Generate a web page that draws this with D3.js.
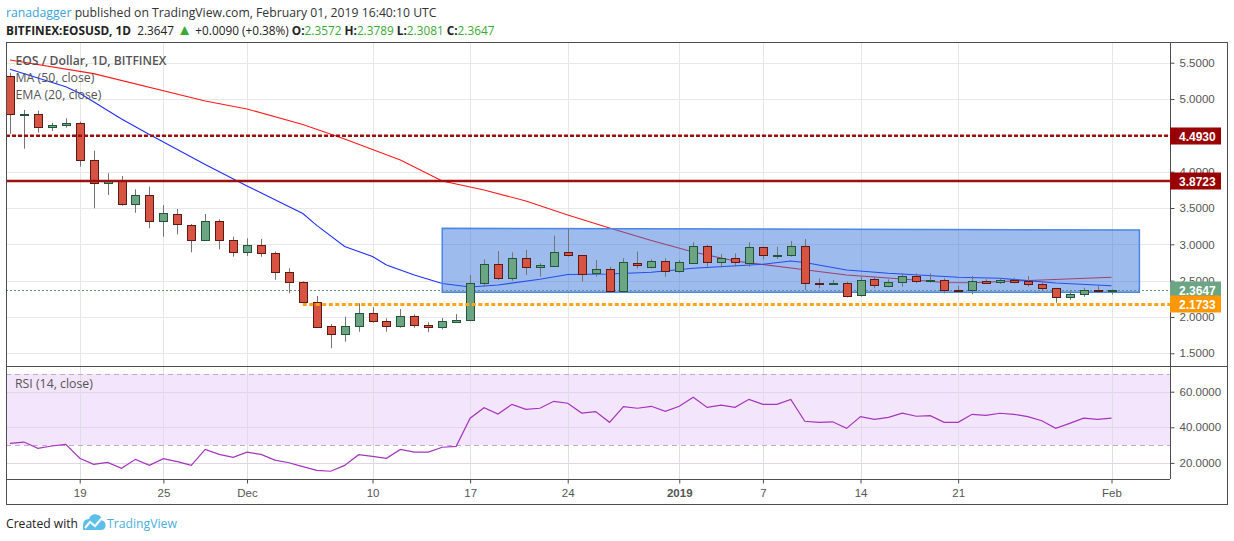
<!DOCTYPE html>
<html>
<head>
<meta charset="utf-8">
<script src="https://cdn.jsdelivr.net/npm/d3@7"></script>
<style>
  body { margin: 0; background: #fff; }
  svg { display: block; }
  text { white-space: pre; }
</style>
</head>
<body>
<svg id="chart" width="1234" height="541"></svg>
<script>
// ---- data ----
const firstDay = "2018-11-14";

const opens  = [5.317,4.78,4.79,4.619,4.647,4.666,4.161,3.84,3.872,3.551,3.679,3.317,3.417,3.266,3.055,3.317,3.055,2.898,2.991,2.885,
                2.615,2.477,2.202,1.872,1.762,1.872,2.051,1.949,1.872,2.009,1.886,1.858,1.928,1.955,2.464,2.725,2.532,2.808,2.684,2.706,
                2.89,2.849,2.601,2.656,2.362,2.743,2.692,2.77,2.637,2.747,2.977,2.761,2.808,2.747,2.959,2.85,2.849,2.977,2.464,2.45,
                2.464,2.298,2.518,2.422,2.477,2.56,2.491,2.513,2.371,2.367,2.495,2.481,2.504,2.495,2.45,2.395,2.271,2.312,2.376,2.3572];
const highs  = [5.36,4.85,4.84,4.674,4.735,4.688,4.289,3.978,3.94,3.757,3.793,3.541,3.486,3.28,3.417,3.345,3.105,3.083,3.074,2.90,
                2.67,2.49,2.289,1.903,2.004,2.188,2.133,1.982,2.109,2.037,1.927,1.986,2.04,2.578,2.794,2.908,2.89,2.922,2.739,3.119,
                3.221,2.85,2.784,2.692,2.808,2.9,2.794,2.808,2.784,3.028,2.99,2.867,2.876,3.028,2.97,2.967,3.046,3.074,2.532,2.51,
                2.486,2.555,2.555,2.518,2.601,2.601,2.601,2.532,2.43,2.564,2.518,2.532,2.54,2.564,2.486,2.40,2.358,2.403,2.426,2.3789];
const lows   = [4.52,4.316,4.536,4.56,4.605,4.069,3.496,3.679,3.532,3.435,3.221,3.105,3.138,2.89,3.05,2.932,2.83,2.84,2.83,2.51,
                2.326,2.19,1.85,1.569,1.66,1.797,1.921,1.797,1.852,1.852,1.79,1.83,1.92,1.95,2.417,2.509,2.5,2.578,2.555,2.692,
                2.83,2.486,2.555,2.35,2.348,2.67,2.67,2.555,2.61,2.74,2.692,2.68,2.692,2.692,2.794,2.80,2.83,2.371,2.395,2.44,
                2.27,2.28,2.395,2.41,2.417,2.464,2.472,2.326,2.35,2.312,2.454,2.454,2.463,2.417,2.357,2.196,2.234,2.279,2.353,2.3081];
const closes = [4.79,4.80,4.611,4.642,4.674,4.161,3.84,3.872,3.551,3.679,3.317,3.427,3.28,3.055,3.317,3.055,2.898,2.991,2.885,2.619,
                2.477,2.202,1.858,1.762,1.872,2.051,1.949,1.872,2.009,1.886,1.858,1.94,1.955,2.464,2.725,2.532,2.808,2.684,2.711,2.89,
                2.849,2.587,2.656,2.362,2.753,2.711,2.77,2.637,2.757,2.977,2.761,2.808,2.753,2.959,2.849,2.855,2.977,2.464,2.45,2.464,
                2.285,2.513,2.436,2.477,2.56,2.491,2.513,2.367,2.362,2.491,2.472,2.504,2.486,2.45,2.395,2.271,2.312,2.376,2.362,2.3647];

const rsiValues = [31.0,31.7,28.2,29.5,30.4,22.6,19.2,20.3,17.0,22.0,18.6,22.4,20.7,18.6,27.6,24.8,23.1,26.0,24.8,21.6,
                   20.1,17.9,15.8,15.3,18.6,24.6,23.7,22.6,27.6,26.1,26.1,28.8,29.3,45.1,51.0,47.5,52.9,50.1,50.7,54.6,
                   53.5,48.0,48.8,42.8,51.6,50.7,51.8,49.0,51.8,56.9,51.2,52.4,51.2,55.7,52.9,52.9,55.7,43.4,42.8,43.1,
                   39.4,46.0,44.5,45.6,47.9,46.2,46.5,42.8,42.8,47.3,46.7,47.9,47.3,46.0,43.7,39.4,42.2,45.1,44.5,45.1];

const maDates  = ["2018-11-14","2018-11-20","2018-11-28","2018-12-01","2018-12-05","2018-12-08","2018-12-12","2018-12-15",
                  "2018-12-18","2018-12-21","2018-12-24","2018-12-27","2018-12-30","2019-01-02","2019-01-05","2019-01-09",
                  "2019-01-13","2019-01-17","2019-01-20","2019-01-22","2019-01-25","2019-02-01"];
const maValues = [5.537,5.35,4.973,4.863,4.649,4.45,4.161,3.872,3.748,3.596,3.404,3.225,3.053,2.894,2.77,2.674,
                  2.578,2.523,2.474,2.472,2.495,2.546];

const emaDates  = ["2018-11-14","2018-11-18","2018-11-19","2018-11-22","2018-11-24","2018-11-27","2018-11-28","2018-12-01",
                   "2018-12-05","2018-12-06","2018-12-08","2018-12-10","2018-12-11","2018-12-13","2018-12-15","2018-12-17",
                   "2018-12-19","2018-12-22","2018-12-24","2018-12-27","2018-12-30","2019-01-02","2019-01-07","2019-01-09",
                   "2019-01-10","2019-01-13","2019-01-16","2019-01-21","2019-01-24","2019-01-28","2019-02-01"];
const emaValues = [5.409,5.17,5.08,4.725,4.512,4.202,4.10,3.803,3.424,3.26,2.97,2.832,2.715,2.578,2.461,2.413,
                   2.44,2.519,2.585,2.592,2.615,2.67,2.725,2.771,2.75,2.647,2.601,2.546,2.532,2.468,2.43];

const priceTicks = [1.5, 2.0, 2.5, 3.0, 3.5, 4.0, 4.5, 5.0, 5.5];
const rsiTicks = [20, 40, 60];
const rsiBand = [30, 70];
const dateTicks = ["2018-11-19","2018-11-25","2018-12-01","2018-12-10","2018-12-17","2018-12-24",
                   "2019-01-01","2019-01-07","2019-01-14","2019-01-21","2019-02-01"];
const dateTickLabels = ["19","25","Dec","10","17","24","2019","7","14","21","Feb"];

const levelValues = [4.4930, 3.8723, 2.1733];   // resistance dashed, resistance solid, support
const supportFrom = "2018-12-05";
const boxDates = ["2018-12-15", "2019-02-03"];
const boxTops = [3.221, 3.197];
const boxBottom = 2.34;

// ---- layout ----
const L = 6, PR = 1170, OR = 1227, T = 42, MB = 366, RB = 479, OB = 504;
const AX = "Liberation Sans, Arial, sans-serif";
const UI = "Open Sans, Noto Sans, sans-serif";

const parse = d3.utcParse("%Y-%m-%d");
const day0 = parse(firstDay);
const days = closes.map((_, i) => d3.utcDay.offset(day0, i));

const x = d3.scaleUtc().domain([parse("2018-11-14"), parse("2019-02-01")]).range([10, 1111.5]);
const y = d3.scaleLinear().domain([1.5, 5.5]).range([353.3, 62.7]);
const yr = d3.scaleLinear().domain([20, 60]).range([462.9, 391.7]);

const svg = d3.select("#chart");
const defs = svg.append("defs");
defs.append("clipPath").attr("id", "clipMain").append("rect")
  .attr("x", L).attr("y", T).attr("width", PR - L).attr("height", MB - T);
defs.append("clipPath").attr("id", "clipRsi").append("rect")
  .attr("x", L).attr("y", MB).attr("width", PR - L).attr("height", RB - MB);

// grid
const grid = svg.append("g");
grid.selectAll("line.h").data(priceTicks).join("line")
  .attr("x1", L).attr("x2", PR).attr("y1", d => Math.round(y(d)) + 0.5).attr("y2", d => Math.round(y(d)) + 0.5)
  .attr("stroke", "#e8e8e8");
grid.selectAll("line.v").data(dateTicks).join("line")
  .attr("x1", d => Math.round(x(parse(d))) + 0.5).attr("x2", d => Math.round(x(parse(d))) + 0.5)
  .attr("y1", T).attr("y2", RB).attr("stroke", "#e6e6e6");

// ---- main pane ----
const main = svg.append("g").attr("clip-path", "url(#clipMain)");

const line = d3.line().x(d => x(d[0])).y(d => y(d[1]));
main.append("path")
  .attr("d", line(maDates.map((d, i) => [parse(d), maValues[i]])))
  .attr("fill", "none").attr("stroke", "#ff1a1a").attr("stroke-width", 1.1);
main.append("path")
  .attr("d", line(emaDates.map((d, i) => [parse(d), emaValues[i]])))
  .attr("fill", "none").attr("stroke", "#1f2fff").attr("stroke-width", 1.1);

// range box
const bx0 = x(parse(boxDates[0])), bx1 = x(parse(boxDates[1]));
main.append("path")
  .attr("d", `M${bx0},${y(boxTops[0])}L${bx1},${y(boxTops[1])}L${bx1},${y(boxBottom)}L${bx0},${y(boxBottom)}Z`)
  .attr("fill", "#2f6fd8").attr("fill-opacity", 0.47)
  .attr("stroke", "#4a86e8").attr("stroke-width", 1.5);

// last price dotted line
main.append("line")
  .attr("x1", L).attr("x2", PR)
  .attr("y1", Math.round(y(closes[closes.length - 1])) + 0.5).attr("y2", Math.round(y(closes[closes.length - 1])) + 0.5)
  .attr("stroke", "#5f9878").attr("stroke-dasharray", "2 2");

// candles
const candles = main.append("g");
days.forEach((d, i) => {
  const cx = Math.round(x(d));
  const up = closes[i] >= opens[i];
  candles.append("line")
    .attr("x1", cx + 0.5).attr("x2", cx + 0.5)
    .attr("y1", y(highs[i])).attr("y2", y(lows[i]))
    .attr("stroke", "#747474");
  const top = Math.round(y(Math.max(opens[i], closes[i])));
  const bot = Math.round(y(Math.min(opens[i], closes[i])));
  candles.append("rect")
    .attr("x", cx - 3.5).attr("width", 8)
    .attr("y", top + 0.5).attr("height", Math.max(bot - top, 1))
    .attr("fill", up ? "#6ba583" : "#d75442")
    .attr("stroke", up ? "#225437" : "#5b1a13");
});

// horizontal levels
main.append("line")
  .attr("x1", L).attr("x2", PR).attr("y1", y(levelValues[0])).attr("y2", y(levelValues[0]))
  .attr("stroke", "#9c0e0e").attr("stroke-width", 2.5).attr("stroke-dasharray", "4 2");
main.append("line")
  .attr("x1", L).attr("x2", PR).attr("y1", y(levelValues[1])).attr("y2", y(levelValues[1]))
  .attr("stroke", "#9b1111").attr("stroke-width", 2.5);
main.append("line")
  .attr("x1", x(parse(supportFrom))).attr("x2", PR).attr("y1", y(levelValues[2])).attr("y2", y(levelValues[2]))
  .attr("stroke", "#ffa31a").attr("stroke-width", 3).attr("stroke-dasharray", "4 2.5");

// legend texts
const leg = svg.append("g").attr("font-family", UI).attr("fill", "#555");
const fit = (sel, w) => {
  const m = sel.node().getComputedTextLength();
  sel.attr("font-size", parseFloat(sel.attr("font-size")) * w / m);
};
fit(leg.append("text").attr("x", 15.5).attr("y", 64.5).attr("font-size", 13).attr("font-weight", 600)
  .text("EOS / Dollar, 1D, BITFINEX"), 151);
fit(leg.append("text").attr("x", 15.5).attr("y", 81.5).attr("font-size", 13).text("MA (50, close)"), 79);
fit(leg.append("text").attr("x", 15.5).attr("y", 98.5).attr("font-size", 13).text("EMA (20, close)"), 86);

// ---- RSI pane ----
const rsiG = svg.append("g").attr("clip-path", "url(#clipRsi)");
rsiG.append("rect")
  .attr("x", L).attr("width", PR - L)
  .attr("y", yr(rsiBand[1])).attr("height", yr(rsiBand[0]) - yr(rsiBand[1]))
  .attr("fill", "#f3e5fc");
rsiG.selectAll("line.g").data(rsiTicks).join("line")
  .attr("x1", L).attr("x2", PR)
  .attr("y1", d => Math.round(yr(d)) + 0.5).attr("y2", d => Math.round(yr(d)) + 0.5)
  .attr("stroke", "#e0d6e8");
rsiG.selectAll("line.v").data(dateTicks).join("line")
  .attr("x1", d => Math.round(x(parse(d))) + 0.5).attr("x2", d => Math.round(x(parse(d))) + 0.5)
  .attr("y1", MB).attr("y2", RB).attr("stroke", "#e2dbe8");
rsiG.selectAll("line.b").data(rsiBand).join("line")
  .attr("x1", L).attr("x2", PR)
  .attr("y1", d => Math.round(yr(d)) + 0.5).attr("y2", d => Math.round(yr(d)) + 0.5)
  .attr("stroke", "#bcaec6").attr("stroke-dasharray", "5 4");
rsiG.append("path")
  .attr("d", d3.line().x((d, i) => x(days[i])).y(d => yr(d))(rsiValues))
  .attr("fill", "none").attr("stroke", "#a434bd").attr("stroke-width", 1.2);
fit(svg.append("text").attr("x", 15).attr("y", 388).attr("font-family", UI).attr("font-size", 12)
  .attr("fill", "#555").text("RSI (14, close)"), 78);

// ---- frames ----
const frame = svg.append("g").attr("stroke", "#4d4d4d").attr("fill", "none");
frame.append("rect").attr("x", L + 0.5).attr("y", T + 0.5).attr("width", OR - L).attr("height", OB - T);
frame.append("line").attr("x1", L).attr("x2", OR).attr("y1", MB + 0.5).attr("y2", MB + 0.5);
frame.append("line").attr("x1", L).attr("x2", PR).attr("y1", RB + 0.5).attr("y2", RB + 0.5);
frame.append("line").attr("x1", PR + 0.5).attr("x2", PR + 0.5).attr("y1", T).attr("y2", RB);

// ---- axes ----
const styleAxis = g => {
  g.select(".domain").remove();
  g.selectAll(".tick line").attr("stroke", "#4d4d4d");
  g.selectAll(".tick text").attr("fill", "#555").attr("font-family", AX).attr("font-size", 11.5);
};
svg.append("g").attr("transform", `translate(${PR + 0.5},0)`)
  .call(d3.axisRight(y).tickValues(priceTicks).tickFormat(d3.format(".4f")).tickSize(4).tickPadding(5))
  .call(styleAxis);
svg.append("g").attr("transform", `translate(${PR + 0.5},0)`)
  .call(d3.axisRight(yr).tickValues(rsiTicks).tickFormat(d3.format(".4f")).tickSize(4).tickPadding(5))
  .call(styleAxis);
const xAxis = svg.append("g").attr("transform", `translate(0,${RB + 0.5})`)
  .call(d3.axisBottom(x).tickValues(dateTicks.map(parse)).tickFormat((d, i) => dateTickLabels[i]).tickSize(4).tickPadding(5))
  .call(styleAxis);
xAxis.selectAll(".tick text").attr("font-weight", (d, i) => dateTickLabels[i] === "2019" ? "bold" : null);

// price labels on the axis (they sit over the tick labels, as in TradingView)
const tags = [
  { v: levelValues[0], c: "#990000" },
  { v: levelValues[1], c: "#990000" },
  { v: closes[closes.length - 1], c: "#6ba583" },
  { v: levelValues[2], c: "#ff9800" }
];
const tagG = svg.append("g");
tags.forEach(t => {
  const ty = Math.round(y(t.v));
  tagG.append("rect").attr("x", PR).attr("y", ty - 8.5).attr("width", 51).attr("height", 17).attr("fill", t.c);
  tagG.append("text").attr("x", PR + 9).attr("y", ty + 4.5)
    .attr("font-family", AX).attr("font-size", 12).attr("font-weight", "bold").attr("fill", "#fff")
    .text(d3.format(".4f")(t.v));
});

// ---- header ----
const h1 = svg.append("text").attr("x", 6).attr("y", 17).attr("font-family", UI).attr("font-size", 14);
h1.append("tspan").attr("fill", "#3ba3d8").text("ranadagger");
h1.append("tspan").attr("fill", "#333").text(" published on TradingView.com, February 01, 2019 16:40:10 UTC");
fit(h1, 431);

const green = "#3aa935";
const h2 = svg.append("text").attr("x", 6).attr("y", 35).attr("font-family", UI).attr("font-size", 14).attr("fill", "#222");
h2.append("tspan").attr("font-weight", "bold").text("BITFINEX:EOSUSD, 1D");
h2.append("tspan").text("  2.3647 ");
h2.append("tspan").attr("fill", green).attr("font-size", "1.3em").text("▲");
h2.append("tspan").text(" +0.0090 (+0.38%) ");
[["O:", "2.3572"], [" H:", "2.3789"], [" L:", "2.3081"], [" C:", "2.3647"]].forEach(([k, v]) => {
  h2.append("tspan").attr("font-weight", "bold").text(k);
  h2.append("tspan").attr("fill", green).text(v);
});
fit(h2, 489);

// ---- footer ----
const f = svg.append("text").attr("x", 6).attr("y", 528).attr("font-family", UI).attr("font-size", 13).attr("fill", "#222")
  .text("Created with");
fit(f, 72);
svg.append("path")
  .attr("d", "M83,530 L83,525 Q83,519 89,519 Q91,513.5 96.5,514.5 Q102,515.5 102,520.5 Q106,521.5 105.5,526 Q105,530 101,530 Z")
  .attr("fill", "#5cbfea");
svg.append("path").attr("d", "M85,528 L90,522 L95,526 L102,518")
  .attr("fill", "none").attr("stroke", "#fff").attr("stroke-width", 2);
const tv = svg.append("text").attr("x", 107).attr("y", 528).attr("font-family", UI).attr("font-size", 13).attr("fill", "#49aee0")
  .text("TradingView");
fit(tv, 70);
</script>
</body>
</html>
